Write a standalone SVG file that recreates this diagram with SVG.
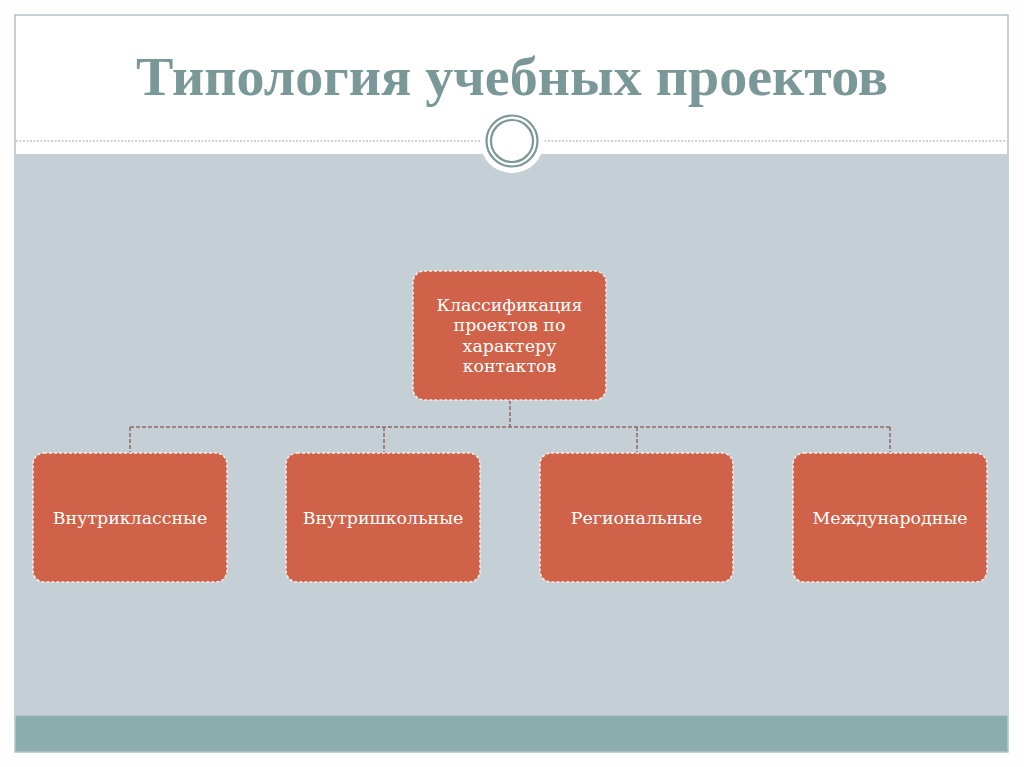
<svg xmlns="http://www.w3.org/2000/svg" width="1024" height="767" viewBox="0 0 1024 767">
<style>
.node rect{fill:#D0624A;stroke:#F8ECE8;stroke-width:1.6;stroke-dasharray:3 2}
.node text{font-family:"DejaVu Serif","Liberation Serif",serif;font-size:17.4px;fill:#FFFFFF;text-anchor:middle}
.conn{fill:none;stroke:#8E6868;stroke-width:1.5;stroke-dasharray:4 2}
</style>
<rect x="0" y="0" width="1024" height="767" fill="#FEFEFE"/>
<rect x="15" y="15" width="993" height="737" fill="#FFFFFF" stroke="#9FB2B4" stroke-width="1.2"/>
<rect x="15.6" y="154" width="991.8" height="562" fill="#C5D0D6"/>
<rect x="15.6" y="716" width="991.8" height="35.5" fill="#8BADAD"/>
<line x1="15.6" y1="716" x2="1007.4" y2="716" stroke="#9BB5B8" stroke-width="1"/>
<line x1="16" y1="141" x2="1007" y2="141" stroke="#9AA9AC" stroke-width="1" stroke-dasharray="2 1.5"/>
<g id="emblem">
<circle cx="512" cy="141" r="32" fill="#FFFFFF"/>
<circle cx="512" cy="141" r="25.5" fill="none" stroke="#7A9898" stroke-width="2.2"/>
<circle cx="512" cy="141" r="21" fill="none" stroke="#7A9898" stroke-width="2.2"/>
</g>
<text id="title" x="512" y="95" font-family="Liberation Serif,DejaVu Serif,serif" font-size="54" font-weight="bold" fill="#7A9898" text-anchor="middle" textLength="752" lengthAdjust="spacingAndGlyphs">Типология учебных проектов</text>
<g id="connectors">
<path class="conn" d="M510 400 V427 M130 427 H890 M130 427 V453 M384 427 V453 M637 427 V453 M890 427 V453"/>
</g>
<g id="root" class="node">
<rect x="413" y="271" width="193" height="129" rx="11"/>
<text x="509.5" y="311">Классификация</text>
<text x="509.5" y="331">проектов по</text>
<text x="509.5" y="352">характеру</text>
<text x="509.5" y="372">контактов</text>
</g>
<g id="n1" class="node">
<rect x="33" y="453" width="194" height="129" rx="11"/>
<text x="130" y="524">Внутриклассные</text>
</g>
<g id="n2" class="node">
<rect x="286" y="453" width="194" height="129" rx="11"/>
<text x="383" y="524">Внутришкольные</text>
</g>
<g id="n3" class="node">
<rect x="540" y="453" width="193" height="129" rx="11"/>
<text x="636.5" y="524">Региональные</text>
</g>
<g id="n4" class="node">
<rect x="793" y="453" width="194" height="129" rx="11"/>
<text x="890" y="524">Международные</text>
</g>
</svg>
